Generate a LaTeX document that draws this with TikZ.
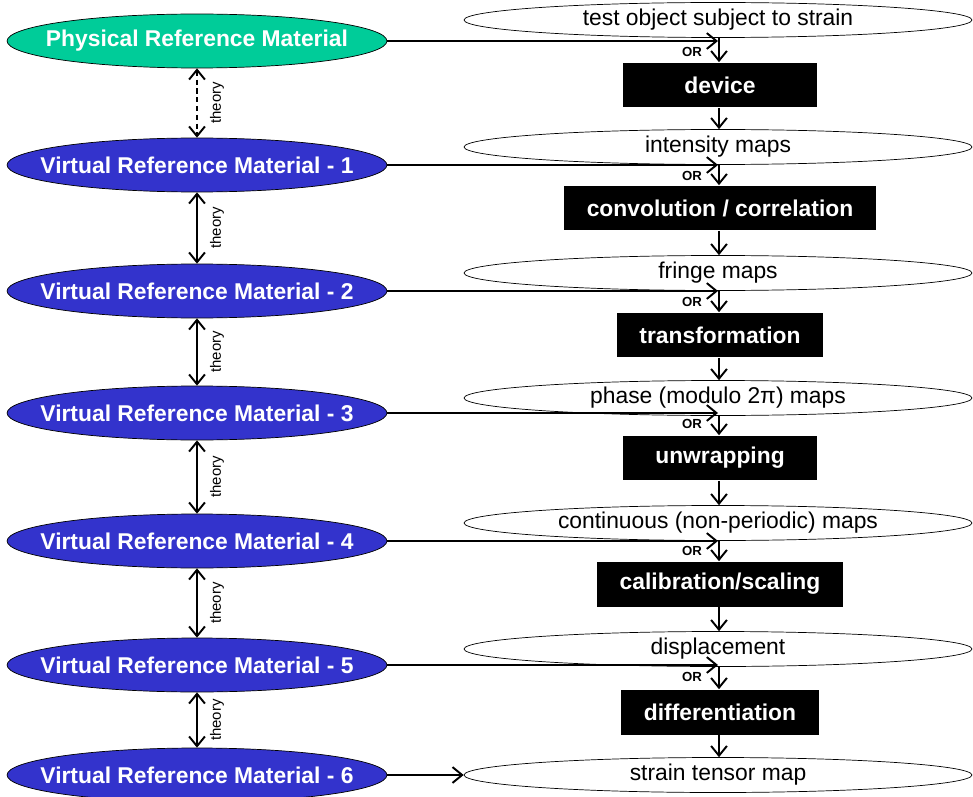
\documentclass[tikz,border=0pt]{standalone}
\usepackage{fontspec}
\setmainfont{Liberation Sans}
\usetikzlibrary{positioning,arrows.meta,shapes.geometric,calc}
\definecolor{physgreen}{HTML}{00CC99}
\definecolor{virtblue}{HTML}{3333CC}

\begin{document}
\begin{tikzpicture}[
    x=0.02cm, y=-0.02cm,
    every node/.style={font=\fontsize{13}{15}\selectfont},
    refPhysical/.style={ellipse, draw=black, fill=physgreen, text=white, font=\fontsize{13}{15}\selectfont\bfseries, minimum width=7.6cm, minimum height=1.08cm, inner xsep=-16pt, inner ysep=0pt},
    refVirtual/.style={refPhysical, fill=virtblue},
    mapEllipse/.style={ellipse, draw=black, fill=white, minimum width=10.16cm, minimum height=0.7cm, inner sep=0pt},
    stepBox/.style={rectangle, fill=black, text=white, font=\fontsize{13}{15}\selectfont\bfseries, minimum width=3.9cm, minimum height=0.9cm, inner xsep=0.45cm},
    flowArrow/.style={-{Straight Barb[length=5.5pt, width=9pt]}, line width=1.1pt},
    theoryArrow/.style={{Straight Barb[length=5.5pt, width=9pt]}-{Straight Barb[length=5.5pt, width=9pt]}, line width=1.1pt},
    orLabel/.style={font=\fontsize{7.5}{9}\selectfont\bfseries, inner sep=0pt},
    theoryLabel/.style={rotate=90, font=\fontsize{8.5}{10}\selectfont, inner sep=0pt}
]
    \useasboundingbox (0,0) rectangle (973,797);

    % Materiali di riferimento (colonna sinistra)
    \node[refPhysical] (prm) at (197,41) {Physical Reference Material};
    \node[refVirtual] (vrm1) at (197,165) {Virtual Reference Material - 1};
    \node[refVirtual] (vrm2) at (197,291) {Virtual Reference Material - 2};
    \node[refVirtual] (vrm3) at (197,413) {Virtual Reference Material - 3};
    \node[refVirtual] (vrm4) at (197,541) {Virtual Reference Material - 4};
    \node[refVirtual] (vrm5) at (197,665) {Virtual Reference Material - 5};
    \node[refVirtual] (vrm6) at (197,775) {Virtual Reference Material - 6};

    % Mappe (colonna destra)
    \node[mapEllipse] (testObj) at (718,20) {test object subject to strain};
    \node[mapEllipse] (intensityMap) at (718,147) {intensity maps};
    \node[mapEllipse] (fringeMap) at (718,273) {fringe maps};
    \node[mapEllipse] (phaseMap) at (718,398) {phase (modulo 2π) maps};
    \node[mapEllipse] (contMap) at (718,523) {continuous (non-periodic) maps};
    \node[mapEllipse] (displMap) at (718,649) {displacement};
    \node[mapEllipse] (strainMap) at (718,775) {strain tensor map};

    % Passi di elaborazione
    \node[stepBox] (device) at (720,85) {device};
    \node[stepBox] (convCorr) at (720,208) {convolution / correlation};
    \node[stepBox] (transform) at (720,335) {transformation};
    \node[stepBox] (unwrap) at (720,458) {unwrapping};
    \node[stepBox] (calib) at (720,584) {calibration/scaling};
    \node[stepBox] (diffStep) at (720,712) {differentiation};

    % Catena verticale
    \draw[flowArrow] (testObj.south -| 719,0) -- (device.north -| 719,0);
    \draw[flowArrow] (device.south -| 719,0) -- (intensityMap.north -| 719,0);
    \draw[flowArrow] (intensityMap.south -| 719,0) -- (convCorr.north -| 719,0);
    \draw[flowArrow] (convCorr.south -| 719,0) -- (fringeMap.north -| 719,0);
    \draw[flowArrow] (fringeMap.south -| 719,0) -- (transform.north -| 719,0);
    \draw[flowArrow] (transform.south -| 719,0) -- (phaseMap.north -| 719,0);
    \draw[flowArrow] (phaseMap.south -| 719,0) -- (unwrap.north -| 719,0);
    \draw[flowArrow] (unwrap.south -| 719,0) -- (contMap.north -| 719,0);
    \draw[flowArrow] (contMap.south -| 719,0) -- (calib.north -| 719,0);
    \draw[flowArrow] (calib.south -| 719,0) -- (displMap.north -| 719,0);
    \draw[flowArrow] (displMap.south -| 719,0) -- (diffStep.north -| 719,0);
    \draw[flowArrow] (diffStep.south -| 719,0) -- (strainMap.north -| 719,0);

    % Ingressi alternativi dai materiali di riferimento
    \coordinate (tip0) at (718,41);
    \coordinate (tip1) at (718,165);
    \coordinate (tip2) at (718,291);
    \coordinate (tip3) at (718,413);
    \coordinate (tip4) at (718,541);
    \coordinate (tip5) at (718,665);
    \draw[flowArrow] (prm.east) -- (tip0);
    \draw[flowArrow] (vrm1.east) -- (tip1);
    \draw[flowArrow] (vrm2.east) -- (tip2);
    \draw[flowArrow] (vrm3.east) -- (tip3);
    \draw[flowArrow] (vrm4.east) -- (tip4);
    \draw[flowArrow] (vrm5.east) -- (tip5);
    \draw[flowArrow] (vrm6.east) -- (strainMap.west);

    \node[orLabel] (or0) at (692,52) {OR};
    \node[orLabel] (or1) at (692,176) {OR};
    \node[orLabel] (or2) at (692,302) {OR};
    \node[orLabel] (or3) at (692,424) {OR};
    \node[orLabel] (or4) at (692,551) {OR};
    \node[orLabel] (or5) at (692,677) {OR};

    % Legami teorici tra i materiali
    \draw[theoryArrow, dash pattern=on 3pt off 2pt] (prm.south) -- (vrm1.north);
    \draw[theoryArrow] (vrm1.south) -- (vrm2.north);
    \draw[theoryArrow] (vrm2.south) -- (vrm3.north);
    \draw[theoryArrow] (vrm3.south) -- (vrm4.north);
    \draw[theoryArrow] (vrm4.south) -- (vrm5.north);
    \draw[theoryArrow] (vrm5.south) -- (vrm6.north);

    \node[theoryLabel] (th1) at (217,103) {theory};
    \node[theoryLabel] (th2) at (217,228) {theory};
    \node[theoryLabel] (th3) at (217,352) {theory};
    \node[theoryLabel] (th4) at (217,477) {theory};
    \node[theoryLabel] (th5) at (217,603) {theory};
    \node[theoryLabel] (th6) at (217,720) {theory};
\end{tikzpicture}
\end{document}
